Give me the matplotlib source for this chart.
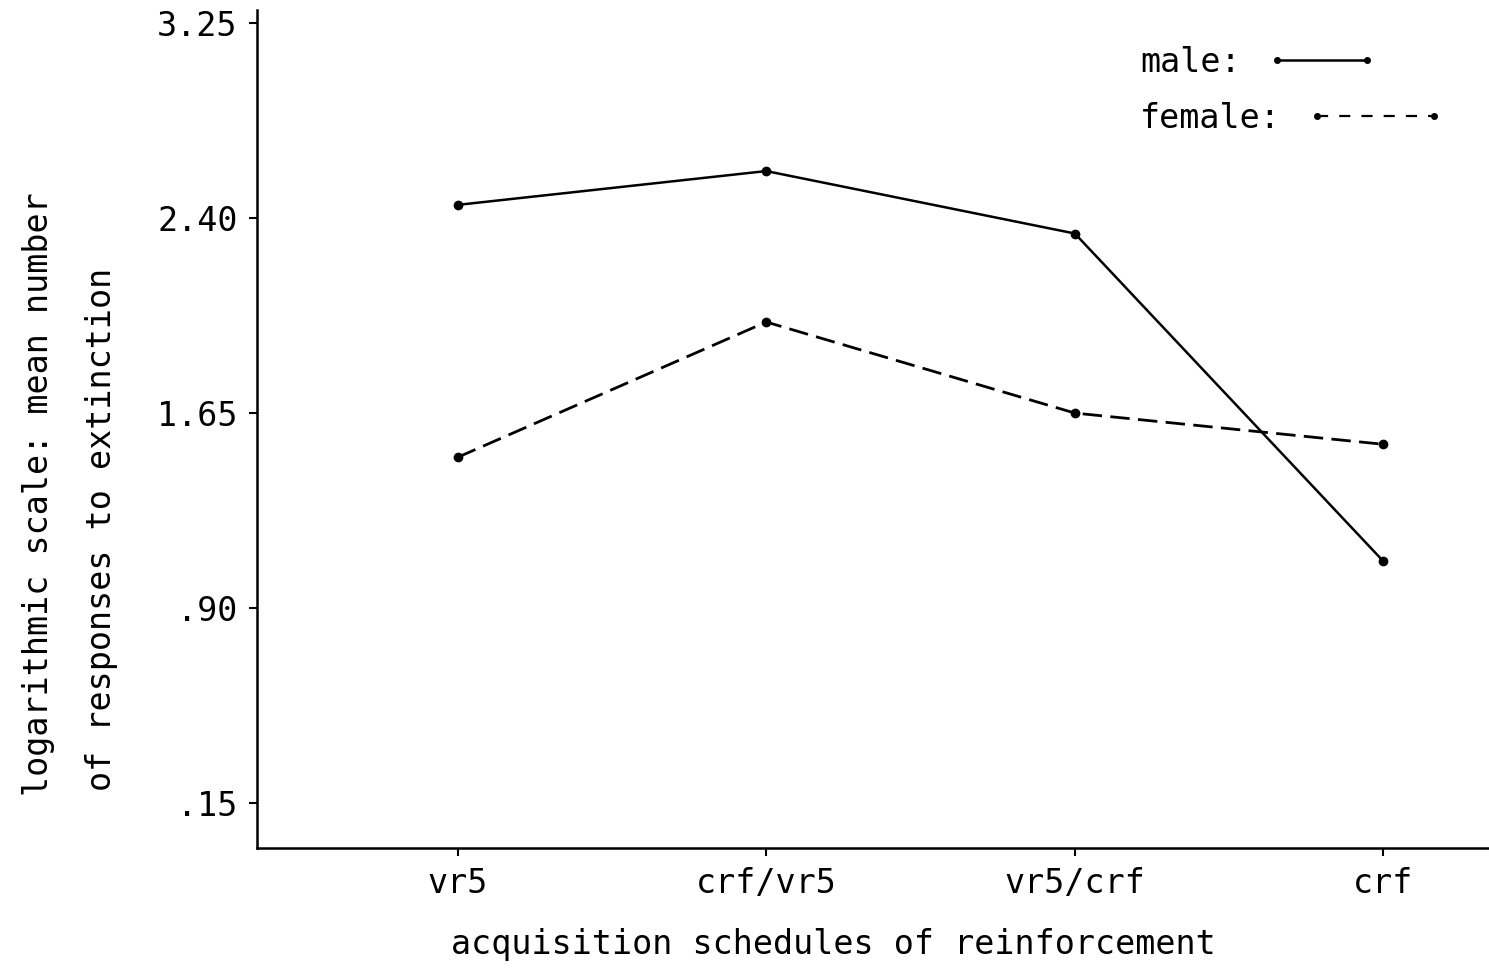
import numpy as np
import matplotlib
matplotlib.use("Agg")
import matplotlib.pyplot as plt
from matplotlib.lines import Line2D

# acquisition schedules (x categories)
schedules = ["vr5", "crf/vr5", "vr5/crf", "crf"]
# log mean number of responses to extinction
male = [2.45, 2.58, 2.34, 1.08]
female = [1.48, 2.00, 1.65, 1.53]
# y ticks are evenly spaced in the original; top label printed as 3.25
ytick_vals = [0.15, 0.90, 1.65, 2.40, 3.15]
ytick_labels = [".15", ".90", "1.65", "2.40", "3.25"]

# monospaced face is closest to the stencil lettering of the original
plt.rcParams['font.family'] = ['DejaVu Sans Mono']
FS = 24

fig = plt.figure(figsize=(14.89, 9.71), dpi=100)
ax = fig.add_axes([0.1726, 0.127, 0.827, 0.863])

x = np.arange(len(schedules))
ax.plot(x, male, color='black', lw=1.8, marker='o', ms=6)
ax.plot(x, female, color='black', lw=2.0, ls=(0, (7, 3)), marker='o', ms=6)

ax.set_xlim(-0.65, 3.34)
ax.set_ylim(-0.02, 3.20)
ax.set_xticks(x)
ax.set_xticklabels(schedules, fontsize=FS)
ax.set_yticks(ytick_vals)
ax.set_yticklabels(ytick_labels, fontsize=FS)
ax.tick_params(axis='both', length=6, width=1.5, pad=8)

for s in ['top', 'right']:
    ax.spines[s].set_visible(False)
for s in ['left', 'bottom']:
    ax.spines[s].set_linewidth(1.8)

ax.set_xlabel("acquisition schedules of reinforcement", fontsize=FS)
ax.xaxis.set_label_coords(0.468, -0.096)

fig.text(0.026, 0.18, "logarithmic scale: mean number", rotation=90,
         rotation_mode='anchor', ha='left', va='center', fontsize=FS)
fig.text(0.068, 0.185, "of responses to extinction", rotation=90,
         rotation_mode='anchor', ha='left', va='center', fontsize=FS)

# key, drawn as two separate entries like the hand-lettered original
male_h = Line2D([], [], color='black', lw=1.8, marker='o', ms=4)
female_h = Line2D([], [], color='black', lw=1.6, ls=(0, (5, 5)), marker='o', ms=4)
leg1 = ax.legend([male_h], ["male:"], loc='upper left', bbox_to_anchor=(0.717, 0.957),
                 frameon=False, markerfirst=False, numpoints=2, handlelength=3.3,
                 handletextpad=0.8, borderpad=0, borderaxespad=0, fontsize=FS)
ax.add_artist(leg1)
ax.legend([female_h], ["female:"], loc='upper left', bbox_to_anchor=(0.717, 0.89),
          frameon=False, markerfirst=False, numpoints=2, handlelength=4.1,
          handletextpad=0.8, borderpad=0, borderaxespad=0, fontsize=FS)

fig.savefig("out.png", dpi=100)
